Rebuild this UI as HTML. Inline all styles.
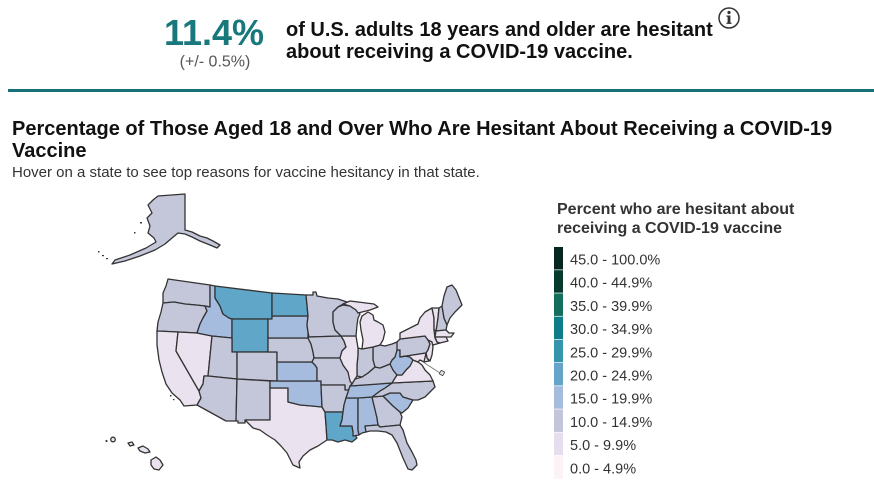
<!DOCTYPE html>
<html>
<head>
<meta charset="utf-8">
<style>
  html,body{margin:0;padding:0;background:#fff;}
  body{width:874px;height:499px;overflow:hidden;}
  svg{display:block;}
  text{font-family:"Liberation Sans", Arial, sans-serif;}
</style>
</head>
<body>
<svg width="874" height="499" viewBox="0 0 874 499" xmlns="http://www.w3.org/2000/svg">
  <rect width="874" height="499" fill="#fff"/>

  <!-- Header -->
  <text x="214" y="45" text-anchor="middle" font-size="36" font-weight="bold" fill="#18787c">11.4%</text>
  <text x="215" y="66.5" text-anchor="middle" font-size="16" fill="#555">(+/- 0.5%)</text>
  <text x="286" y="36" font-size="20" font-weight="bold" fill="#111">of U.S. adults 18 years and older are hesitant</text>
  <text x="286" y="58" font-size="20" font-weight="bold" fill="#111">about receiving a COVID-19 vaccine.</text>
  <circle cx="729" cy="18" r="10" fill="none" stroke="#333" stroke-width="1.5"/>
  <circle cx="729" cy="12.5" r="1.6" fill="#333"/>
  <rect x="727.6" y="15.5" width="2.8" height="8" fill="#333"/>
  <rect x="726.5" y="15.5" width="3" height="1.3" fill="#333"/>
  <rect x="726.5" y="22.6" width="5" height="1.3" fill="#333"/>

  <rect x="8" y="89" width="866" height="3" fill="#176f78"/>

  <!-- Title -->
  <text x="12" y="135" font-size="20" font-weight="bold" fill="#111">Percentage of Those Aged 18 and Over Who Are Hesitant About Receiving a COVID-19</text>
  <text x="12" y="157" font-size="20" font-weight="bold" fill="#111">Vaccine</text>
  <text x="12" y="177" font-size="15" fill="#333">Hover on a state to see top reasons for vaccine hesitancy in that state.</text>

  <!-- Legend -->
  <text x="557" y="214" font-size="16" font-weight="bold" fill="#333">Percent who are hesitant about</text>
  <text x="557" y="233" font-size="16" font-weight="bold" fill="#333">receiving a COVID-19 vaccine</text>
  <g>
    <rect x="554" y="247" width="9" height="22.5" fill="#06261f"/>
    <rect x="554" y="270.2" width="9" height="22.5" fill="#073a2f"/>
    <rect x="554" y="293.4" width="9" height="22.5" fill="#146e5c"/>
    <rect x="554" y="316.6" width="9" height="22.5" fill="#0e7e86"/>
    <rect x="554" y="339.8" width="9" height="22.5" fill="#3595ab"/>
    <rect x="554" y="363" width="9" height="22.5" fill="#65a4c8"/>
    <rect x="554" y="386.2" width="9" height="22.5" fill="#a5bcdd"/>
    <rect x="554" y="409.4" width="9" height="22.5" fill="#c3c5da"/>
    <rect x="554" y="432.6" width="9" height="22.5" fill="#e6ddee"/>
    <rect x="554" y="455.8" width="9" height="23" fill="#fcf3f9"/>
  </g>
  <g font-size="14.5" fill="#333">
    <text x="570" y="264.5">45.0 - 100.0%</text>
    <text x="570" y="287.7">40.0 - 44.9%</text>
    <text x="570" y="310.9">35.0 - 39.9%</text>
    <text x="570" y="334.1">30.0 - 34.9%</text>
    <text x="570" y="357.3">25.0 - 29.9%</text>
    <text x="570" y="380.5">20.0 - 24.9%</text>
    <text x="570" y="403.7">15.0 - 19.9%</text>
    <text x="570" y="426.9">10.0 - 14.9%</text>
    <text x="570" y="450.1">5.0 - 9.9%</text>
    <text x="570" y="473.3">0.0 - 4.9%</text>
  </g>

  <!-- Map -->
  <g stroke="#333" stroke-width="1.3" stroke-linejoin="round">
    <!-- West -->
    <path fill="#c4c6da" d="M168,279 L210,285 L210,307 L205,306 L196,305 L185,304 L174,302 L163,303 L163,293 L166,286 Z"/>
    <path fill="#c4c6da" d="M163,303 L174,302 L185,304 L196,305 L205,306 L207,311 L203,318 L200,324 L197,333 L178,332 L157,331 L158,322 L161,312 Z"/>
    <path fill="#ebe2ef" d="M157,331 L178,332 L176,351 L199,391 L201,398 L197,405 L184,406 L180,400 L172,393 L166,384 L162,372 L159,360 L157,345 Z"/>
    <path fill="#ebe2ef" d="M178,332 L197,333 L212,336 L208,376 L204,376 L203,384 L199,391 L176,351 Z"/>
    <path fill="#a5bcdf" d="M210,285 L215,286 L215,298 L220,306 L223,314 L229,318 L232,319 L232,338 L212,336 L197,333 L200,324 L203,318 L207,311 L205,306 L210,307 Z"/>
    <path fill="#5fa6c9" d="M215,286 L272,293 L272,319 L232,319 L229,318 L223,314 L220,306 L215,298 Z"/>
    <path fill="#5fa6c9" d="M232,319 L268,319 L268,352 L232,352 Z"/>
    <path fill="#c4c6da" d="M212,336 L232,338 L232,352 L237,352 L237,379 L208,376 Z"/>
    <path fill="#c4c6da" d="M237,352 L277,352 L277,381 L237,379 Z"/>
    <path fill="#c4c6da" d="M208,376 L237,379 L236,421 L226,421 L197,405 L201,398 L199,391 L203,384 L204,376 Z"/>
    <path fill="#c4c6da" d="M237,379 L270,381 L270,420 L245,420 L245,423 L238,423 L238,421 L236,421 Z"/>
    <!-- Plains -->
    <path fill="#ebe2ef" d="M270,388 L288,388 L288,402 L300,405 L312,406 L322,407 L325,412 L326,425 L327,440 L318,446 L310,450 L303,456 L299,462 L300,468 L293,465 L287,453 L281,446 L275,440 L267,435 L260,430 L253,428 L245,420 L270,420 Z"/>
    <path fill="#a5bcdf" d="M270,381 L321,381 L321,385 L322,407 L312,406 L300,405 L288,402 L288,388 L270,388 Z"/>
    <path fill="#a5bcdf" d="M277,362 L312,362 L315,365 L317,368 L317,381 L277,381 Z"/>
    <path fill="#c4c6da" d="M268,338 L308,338 L311,344 L313,352 L314,358 L312,362 L277,362 L277,352 L268,352 Z"/>
    <path fill="#a5bcdf" d="M272,316 L308,316 L307,325 L308,332 L308,338 L268,338 L268,319 L272,319 Z"/>
    <path fill="#5fa6c9" d="M272,293 L306,295 L307,305 L308,316 L272,316 Z"/>
    <path fill="#c4c6da" d="M306,295 L313,295 L313,292 L316,292 L317,296 L328,298 L338,299 L347,302 L338,307 L333,312 L333,322 L335,330 L341,336 L309,337 L308,332 L307,325 L308,316 L307,305 Z"/>
    <path fill="#c4c6da" d="M309,337 L341,336 L344,341 L346,347 L342,351 L340,358 L314,358 L313,352 L311,344 L308,338 Z"/>
    <path fill="#c4c6da" d="M314,358 L340,358 L343,365 L348,372 L351,380 L352,385 L349,390 L345,390 L345,385 L321,385 L321,381 L317,381 L317,368 L315,365 L312,362 Z"/>
    <path fill="#c4c6da" d="M321,385 L345,385 L345,390 L349,390 L346,398 L344,405 L343,412 L325,412 L322,407 Z"/>
    <path fill="#5fa6c9" d="M325,412 L343,412 L342,420 L340,426 L352,426 L353,432 L357,438 L352,442 L345,440 L338,442 L332,440 L327,440 L326,425 Z"/>
    <!-- South east -->
    <path fill="#a5bcdf" d="M346,398 L358,398 L358,430 L359,435 L353,436 L353,432 L352,426 L340,426 L342,420 L343,412 L344,405 Z"/>
    <path fill="#a5bcdf" d="M358,398 L372,397 L377,418 L378,425 L365,426 L366,432 L362,433 L359,435 L358,430 Z"/>
    <path fill="#c4c6da" d="M372,397 L383,396 L387,400 L393,406 L400,412 L402,417 L400,425 L380,427 L378,425 L377,418 Z"/>
    <path fill="#c4c6da" d="M365,426 L378,425 L380,427 L400,425 L403,430 L407,443 L412,452 L416,460 L417,465 L412,470 L408,469 L403,458 L397,443 L392,435 L386,432 L378,431 L370,431 L366,432 Z"/>
    <path fill="#a5bcdf" d="M383,396 L390,393 L400,393 L403,397 L413,400 L408,408 L402,413 L400,412 L393,406 L387,400 Z"/>
    <path fill="#c4c6da" d="M392,383 L433,381 L435,387 L430,392 L425,397 L418,400 L413,400 L403,397 L400,393 L390,393 L383,396 L372,397 L380,391 L385,388 Z"/>
    <path fill="#a5bcdf" d="M350,386 L392,383 L385,388 L380,391 L372,397 L358,398 L346,398 L348,392 Z"/>
    <path fill="#c4c6da" d="M350,386 L352,384 L355,379 L362,377 L368,373 L375,367 L380,368 L385,366 L390,364 L393,370 L397,375 L392,383 Z"/>
    <path fill="#ebe2ef" d="M392,383 L397,375 L402,375 L406,370 L410,366 L413,360 L418,362 L422,365 L425,370 L430,375 L433,381 Z"/>
    <path fill="#a5bcdf" d="M390,364 L392,360 L395,357 L397,350 L400,350 L400,357 L405,356 L410,357 L413,360 L410,366 L406,370 L402,375 L397,375 L393,370 Z"/>
    <!-- Midwest -->
    <path fill="#c4c6da" d="M373,347 L380,345 L385,346 L392,344 L397,342 L398,350 L397,350 L395,357 L392,360 L390,364 L385,366 L380,368 L375,367 L373,360 Z"/>
    <path fill="#c4c6da" d="M358,348 L362,349 L373,347 L373,360 L375,367 L368,373 L362,377 L357,376 L357,365 L358,355 Z"/>
    <path fill="#ebe2ef" d="M341,336 L356,336 L358,348 L358,355 L357,365 L357,376 L355,379 L352,384 L350,381 L348,372 L343,365 L340,358 L342,351 L346,347 L344,341 Z"/>
    <path fill="#c4c6da" d="M338,307 L343,305 L350,306 L356,310 L360,314 L358,318 L357,325 L356,336 L341,336 L335,330 L333,322 L333,312 Z"/>
    <path fill="#ebe2ef" d="M343,304 L350,301 L358,302 L366,303 L374,304 L378,307 L370,310 L362,312 L358,313 L356,310 L350,306 Z"/>
    <path fill="#ebe2ef" d="M362,316 L368,312 L373,315 L374,320 L378,322 L383,325 L385,332 L383,340 L380,345 L373,347 L362,349 L363,340 L361,330 L360,322 Z"/>
    <!-- Northeast -->
    <path fill="#c4c6da" d="M397,342 L400,339 L425,336 L428,340 L430,344 L428,350 L426,353 L400,357 L400,350 L397,350 Z"/>
    <path fill="#ebe2ef" d="M400,339 L400,333 L406,330 L412,327 L418,324 L420,318 L425,312 L432,308 L434,318 L434,330 L435,338 L437,342 L440,343 L433,345 L430,342 L428,340 L425,336 Z"/>
    <path fill="#ebe2ef" d="M432,308 L439,308 L438,318 L437,325 L436,331 L434,330 L434,318 Z"/>
    <path fill="#c4c6da" d="M439,308 L442,306 L444,318 L447,325 L446,330 L436,331 L437,325 L438,318 Z"/>
    <path fill="#c4c6da" d="M442,306 L444,296 L447,287 L452,285 L456,290 L460,300 L462,305 L455,312 L450,318 L447,325 L444,318 Z"/>
    <path fill="#ebe2ef" d="M436,331 L446,330 L449,333 L454,333 L451,337 L446,337 L435,337 Z"/>
    <path fill="#ebe2ef" d="M435,337 L446,337 L448,341 L440,343 L437,342 Z"/>
    <path fill="#ebe2ef" d="M428,340 L432,342 L433,347 L432,355 L430,361 L427,358 L426,353 L428,350 L430,344 Z"/>
    <path fill="#ebe2ef" d="M400,357 L426,353 L427,358 L424,362 L420,360 L418,362 L413,360 L410,357 L405,356 Z"/>
    <path fill="#ebe2ef" d="M426,353 L427,358 L429,361 L424,362 Z"/>
    <!-- DC callout -->
    <line x1="423" y1="362" x2="440" y2="373" stroke="#777" stroke-width="0.8"/>
    <rect x="440" y="371" width="4" height="4" fill="#ebe2ef" stroke="#444" stroke-width="0.8" transform="rotate(30 442 373)"/>

    <!-- Alaska -->
    <path fill="#c4c6da" d="M158,196 L185,194 L185,230 L192,232 L200,236 L207,238 L213,241 L220,245 L217,248 L210,245 L200,241 L192,237 L185,234 L178,233 L172,238 L165,244 L155,250 L140,256 L125,261 L112,264 L115,260 L130,255 L146,248 L156,242 L154,238 L148,233 L150,226 L147,218 L152,213 L148,205 L153,200 Z"/>
    <!-- Hawaii -->
    <path fill="#ebe2ef" d="M151,460 L156,457 L160,460 L163,465 L159,470 L154,469 L151,465 Z"/>
    <path fill="#ebe2ef" d="M138,448 L143,446 L148,449 L150,452 L145,453 L140,451 Z"/>
    <path fill="#ebe2ef" d="M128,443 L132,442 L134,445 L130,446 Z"/>
    <circle cx="113" cy="439.5" r="2.3" fill="#ebe2ef"/>
  </g>
  <g fill="#3a3a3a">
    <rect x="140" y="222" width="2" height="1.5"/>
    <rect x="134" y="232" width="1.5" height="1.5"/>
    <rect x="98" y="251" width="1.5" height="1.5"/>
    <rect x="102" y="255" width="2" height="1.2"/>
    <rect x="106" y="258" width="2" height="1.2"/>
    <circle cx="106.5" cy="441" r="1.1"/>
    <rect x="170" y="395" width="1.5" height="1.5"/>
    <rect x="173" y="399" width="1.5" height="1.2"/>
  </g>
</svg>
</body>
</html>
